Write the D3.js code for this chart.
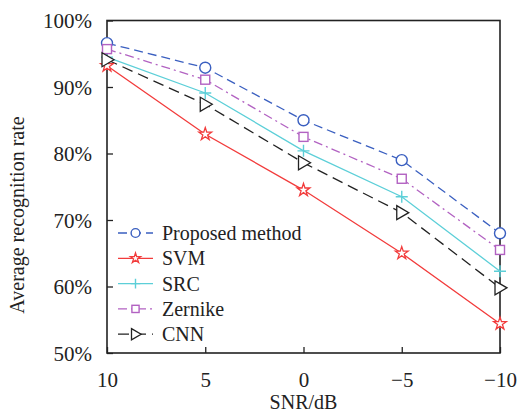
<!DOCTYPE html>
<html>
<head>
<meta charset="utf-8">
<script src="https://cdn.jsdelivr.net/npm/d3@7"></script>
<style>
body { margin: 0; background: #fff; }
text { font-family: "Liberation Serif", "Times New Roman", serif; fill: #222; }
</style>
</head>
<body>
<div id="chart"></div>
<script>
// data
var snr = [10, 5, 0, -5, -10];
var yTicks = [0.5, 0.6, 0.7, 0.8, 0.9, 1.0];
var proposed = [96.6, 92.9, 85.0, 79.0, 68.0];
var svm = [93.2, 82.9, 74.5, 65.0, 54.4];
var src = [94.5, 89.1, 80.4, 73.5, 62.3];
var zernike = [95.7, 91.1, 82.5, 76.2, 65.5];
var cnn = [94.1, 87.4, 78.6, 71.1, 59.8];

var svgWidth = 519;
var svgHeight = 415;
var margin = {top: 20.5, right: 19, bottom: 62, left: 107};
var width = svgWidth - margin.left - margin.right;
var height = svgHeight - margin.top - margin.bottom;

var svg = d3.select("#chart")
    .append("svg")
    .attr("width", svgWidth)
    .attr("height", svgHeight);

var chartGroup = svg.append("g")
    .attr("transform", `translate(${margin.left},${margin.top})`);

var xScale = d3.scaleLinear().domain([10, -10]).range([0, width]);
var yScale = d3.scaleLinear().domain([0.5, 1.0]).range([height, 0]);

// ticks pointing inward
var bottomAxis = d3.axisBottom(xScale).tickValues(snr).tickSizeInner(-6).tickSizeOuter(0)
    .tickPadding(14).tickFormat(d => d < 0 ? "\u2212" + Math.abs(d) : d);
var leftAxis = d3.axisLeft(yScale).tickValues(yTicks).tickSizeInner(-6).tickSizeOuter(0)
    .tickPadding(15).tickFormat(d3.format(".0%"));

var xAxis = chartGroup.append("g")
    .attr("transform", `translate(0,${height})`)
    .call(bottomAxis);
var yAxis = chartGroup.append("g").call(leftAxis);

[xAxis, yAxis].forEach(function(ax) {
    ax.attr("font-size", null).attr("font-family", null);
    ax.selectAll("text").style("font-size", "21px").attr("fill", "#222");
    ax.selectAll("line").attr("stroke", "#222").attr("stroke-width", 1.3);
    ax.select(".domain").remove();
});
xAxis.selectAll("text").attr("dy", "0.95em");
yAxis.selectAll("text").attr("dy", "0.34em");

// frame
chartGroup.append("rect")
    .attr("width", width).attr("height", height)
    .attr("fill", "none").attr("stroke", "#222").attr("stroke-width", 1.6);

var series = [
    {name: "Proposed method", values: proposed, color: "#3a5fc0", dash: "9,5", marker: "circle"},
    {name: "SVM", values: svm, color: "#f23b3b", dash: null, marker: "star"},
    {name: "SRC", values: src, color: "#5ccfd8", dash: null, marker: "plus"},
    {name: "Zernike", values: zernike, color: "#b262c2", dash: "9,4,2,4", marker: "square"},
    {name: "CNN", values: cnn, color: "#222", dash: "11,6", marker: "triangle"}
];

var starPath = d3.symbol().type(d3.symbolStar).size(50);
function drawMarker(g, type, color, k) {
    k = k || 1;
    if (type === "circle") {
        g.append("circle").attr("r", 5.5 * k).attr("fill", "#fff").attr("stroke", color).attr("stroke-width", 1.4);
    } else if (type === "star") {
        g.append("path").attr("d", starPath()).attr("transform", `scale(${k})`)
            .attr("fill", "#fff").attr("stroke", color).attr("stroke-width", 1.3 / k);
    } else if (type === "plus") {
        g.append("path").attr("d", `M${-6 * k},0H${6 * k}M0,${-6 * k}V${6 * k}`).attr("stroke", color).attr("stroke-width", 1.4);
    } else if (type === "square") {
        g.append("rect").attr("x", -4.5 * k).attr("y", -4.5 * k).attr("width", 9 * k).attr("height", 9 * k)
            .attr("fill", "#fff").attr("stroke", color).attr("stroke-width", 1.4);
    } else if (type === "triangle") {
        g.append("path").attr("d", `M${-5 * k},${-7 * k}L${7 * k},0L${-5 * k},${7 * k}Z`)
            .attr("fill", "#fff").attr("stroke", color).attr("stroke-width", 1.3);
    }
}

var line = d3.line()
    .x((d, i) => xScale(snr[i]))
    .y(d => yScale(d / 100));

series.forEach(function(s) {
    chartGroup.append("path")
        .datum(s.values)
        .attr("d", line)
        .attr("fill", "none")
        .attr("stroke", s.color)
        .attr("stroke-width", 1.3)
        .attr("stroke-dasharray", s.dash);
});

series.forEach(function(s) {
    s.values.forEach(function(v, i) {
        var g = chartGroup.append("g")
            .attr("transform", `translate(${xScale(snr[i])},${yScale(v / 100)})`);
        drawMarker(g, s.marker, s.color);
    });
});

// legend
var legend = chartGroup.append("g").attr("transform", "translate(11,212.5)");
series.forEach(function(s, i) {
    var row = legend.append("g").attr("transform", `translate(0,${i * 25.3})`);
    row.append("line").attr("x1", 0).attr("x2", 35).attr("y1", 0).attr("y2", 0)
        .attr("stroke", s.color).attr("stroke-width", 1.3)
        .attr("stroke-dasharray", s.dash);
    var m = row.append("g").attr("transform", "translate(17.5,0)");
    drawMarker(m, s.marker, s.color, 0.8);
    row.append("text").attr("x", 44).attr("y", 7)
        .style("font-size", "20px").text(s.name);
});

// axis titles
svg.append("text")
    .attr("x", margin.left + width / 2).attr("y", 409)
    .attr("text-anchor", "middle").style("font-size", "20px")
    .text("SNR/dB");
svg.append("text")
    .attr("transform", "translate(24,215) rotate(-90)")
    .attr("text-anchor", "middle").style("font-size", "20px")
    .text("Average recognition rate");
</script>
</body>
</html>
